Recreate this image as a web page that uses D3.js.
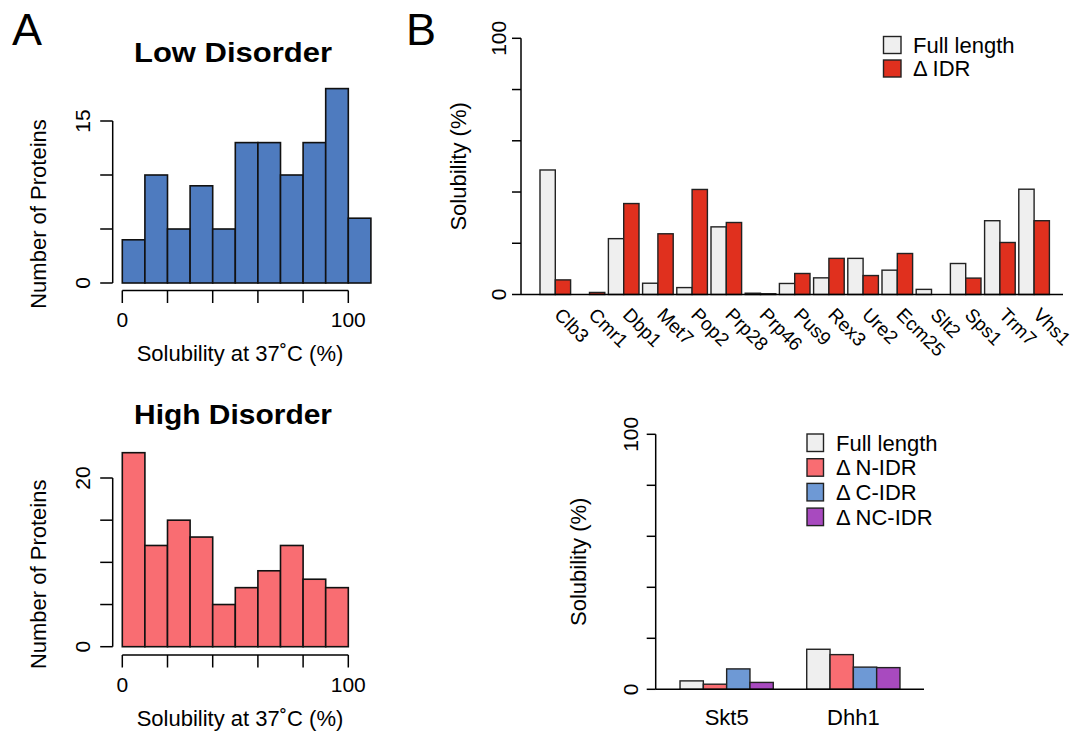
<!DOCTYPE html>
<html>
<head>
<meta charset="utf-8">
<script src="https://cdn.jsdelivr.net/npm/d3@7"></script>
<style>
	body { margin: 0; background: #fff; }
	svg { display: block; font-family: "Liberation Sans", Arial, sans-serif; }
</style>
</head>
<body>
<svg id="fig" width="1084" height="733"></svg>
<script>
// panel A histograms (counts per 10% bin)
const binStarts = [0, 10, 20, 30, 40, 50, 60, 70, 80, 90, 100]
const lowDisorderCounts = [4, 10, 5, 9, 5, 13, 13, 10, 13, 18, 6]
const highDisorderCounts = [23, 12, 15, 13, 5, 7, 9, 12, 8, 7]
const histTicks = [0, 20, 40, 60, 80, 100]
const histTickLabels = [0, 100]

// panel B top
const genes = ["Clb3", "Cmr1", "Dbp1", "Met7", "Pop2", "Prp28", "Prp46", "Pus9", "Rex3", "Ure2", "Ecm25", "Slt2", "Sps1", "Trm7", "Vhs1"]
const fullLength = [48.6, 0, 21.8, 4.4, 2.7, 26.4, 0.5, 4.3, 6.5, 14.1, 9.5, 2, 12.1, 28.8, 41.1]
const deltaIDR = [5.7, 0.8, 35.5, 23.7, 41, 28.1, 0.3, 8.2, 14.1, 7.4, 16, 0, 6.4, 20.3, 28.8]
const topLegend = ["Full length", "\u0394 IDR"]

// panel B bottom
const idrProteins = ["Skt5", "Dhh1"]
const idrFull = [3.3, 15.7]
const deltaN = [2, 13.6]
const deltaC = [8, 8.7]
const deltaNC = [2.7, 8.5]
const bottomLegend = ["Full length", "\u0394 N-IDR", "\u0394 C-IDR", "\u0394 NC-IDR"]

const solTicks = [0, 20, 40, 60, 80, 100]
const solTickLabels = [0, 100]

const svg = d3.select("#fig")
const FS = 21      // tick labels
const LFS = 22     // axis titles, legends

function yAxisLeft(g, x, scale, ticks, labels, tick, labelX) {
	g.append("line").attr("x1", x).attr("x2", x)
		.attr("y1", scale(d3.min(ticks))).attr("y2", scale(d3.max(ticks)))
		.attr("stroke", "#000").attr("stroke-width", 1.5)
	g.selectAll(null).data(ticks).enter().append("line")
		.attr("x1", x - tick).attr("x2", x)
		.attr("y1", d => scale(d)).attr("y2", d => scale(d))
		.attr("stroke", "#000").attr("stroke-width", 1.5)
	g.selectAll(null).data(labels).enter().append("text")
		.attr("transform", d => `translate(${labelX},${scale(d)}) rotate(-90)`)
		.attr("text-anchor", "middle").attr("font-size", FS)
		.text(d => d)
}

// ---- panel A ----
const histX = d3.scaleLinear().domain([0, 100]).range([122.3, 348.3])

function histogram(counts, yMax, yTicks, yLabels, top, bottom, axisY, title, titleY, color) {
	const g = svg.append("g")
	const y = d3.scaleLinear().domain([0, yMax]).range([bottom, top])
	g.selectAll(null).data(counts).enter().append("rect")
		.attr("x", (d, i) => histX(binStarts[i]))
		.attr("width", (d, i) => histX(binStarts[i] + 10) - histX(binStarts[i]))
		.attr("y", d => y(d))
		.attr("height", d => y(0) - y(d))
		.attr("fill", color).attr("stroke", "#111").attr("stroke-width", 1.6)

	const xa = g.append("g").attr("transform", `translate(0,${axisY})`)
	xa.append("line").attr("x1", histX(0)).attr("x2", histX(100))
		.attr("stroke", "#000").attr("stroke-width", 1.5)
	xa.selectAll(null).data(histTicks).enter().append("line")
		.attr("x1", d => histX(d)).attr("x2", d => histX(d))
		.attr("y1", 0).attr("y2", 12.5)
		.attr("stroke", "#000").attr("stroke-width", 1.5)
	xa.selectAll(null).data(histTickLabels).enter().append("text")
		.attr("x", d => histX(d)).attr("y", 36.5)
		.attr("text-anchor", "middle").attr("font-size", FS)
		.text(d => d)
	xa.append("text").attr("x", 240).attr("y", 70.5)
		.attr("text-anchor", "middle").attr("font-size", LFS)
		.text("Solubility at 37\u02DAC (%)")

	yAxisLeft(g, 112.7, y, yTicks, yLabels, 12.5, 90.2)
	g.append("text")
		.attr("transform", `translate(46,${(top + bottom) / 2 + 12}) rotate(-90)`)
		.attr("text-anchor", "middle").attr("font-size", LFS)
		.text("Number of Proteins")

	g.append("text").attr("x", 233).attr("y", titleY)
		.attr("text-anchor", "middle").attr("font-size", 28).attr("font-weight", "bold")
		.attr("textLength", 198).attr("lengthAdjust", "spacingAndGlyphs")
		.text(title)
}

histogram(lowDisorderCounts, 15, [0, 5, 10, 15], [0, 15], 121, 283, 290.5, "Low Disorder", 62, "#4E7BBF")
histogram(highDisorderCounts, 20, [0, 5, 10, 15, 20], [0, 20], 478, 646.7, 655, "High Disorder", 424, "#F96D72")

svg.append("text").attr("x", 12).attr("y", 45).attr("font-size", 45).text("A")
svg.append("text").attr("x", 406).attr("y", 45).attr("font-size", 45).text("B")

// ---- panel B top ----
{
	const g = svg.append("g")
	const x = d3.scaleBand().domain(genes).range([538.2, 1051.2])
		.paddingInner(0.105).paddingOuter(0.0525)
	const sub = d3.scaleBand().domain(["fl", "idr"]).range([0, x.bandwidth()])
	const y = d3.scaleLinear().domain([0, 100]).range([294.5, 38.3])
	const colors = { fl: "#EFEFEF", idr: "#E0301E" }
	const rows = genes.map((gene, i) => ({ gene, fl: fullLength[i], idr: deltaIDR[i] }))

	const grp = g.selectAll(null).data(rows).enter().append("g")
		.attr("transform", d => `translate(${x(d.gene)},0)`)
	grp.selectAll("rect").data(d => ["fl", "idr"].map(k => ({ k, v: d[k] }))).enter().append("rect")
		.attr("x", d => sub(d.k)).attr("width", sub.bandwidth())
		.attr("y", d => y(d.v)).attr("height", d => y(0) - y(d.v))
		.attr("fill", d => colors[d.k]).attr("stroke", "#222").attr("stroke-width", 1.4)

	g.append("line").attr("x1", 521).attr("x2", 1063).attr("y1", y(0)).attr("y2", y(0))
		.attr("stroke", "#000").attr("stroke-width", 1.5)
	yAxisLeft(g, 521, y, solTicks, solTickLabels, 9, 505.5)
	g.append("text")
		.attr("transform", `translate(466,${(y(0) + y(100)) / 2}) rotate(-90)`)
		.attr("text-anchor", "middle").attr("font-size", LFS)
		.text("Solubility (%)")

	g.selectAll(null).data(genes).enter().append("text")
		.attr("transform", d => `translate(${x(d) + x.bandwidth() / 2 - 2},316) rotate(45)`)
		.attr("font-size", 19)
		.text(d => d)

	const lg = g.selectAll(null).data(topLegend).enter().append("g")
		.attr("transform", (d, i) => `translate(883.5,${36.5 + i * 23.5})`)
	lg.append("rect").attr("width", 17.5).attr("height", 17)
		.attr("fill", (d, i) => [colors.fl, colors.idr][i]).attr("stroke", "#222").attr("stroke-width", 1.4)
	lg.append("text").attr("x", 29.5).attr("y", 16).attr("font-size", LFS).text(d => d)
}

// ---- panel B bottom ----
{
	const g = svg.append("g")
	const keys = ["full", "n", "c", "nc"]
	const colors = { full: "#EFEFEF", n: "#F96D72", c: "#6E99D5", nc: "#A84ABF" }
	const rows = idrProteins.map((p, i) => ({ p, full: idrFull[i], n: deltaN[i], c: deltaC[i], nc: deltaNC[i] }))
	const x = d3.scaleBand().domain(idrProteins).range([663.3, 916.7])
		.paddingInner(0.264).paddingOuter(0.132)
	const sub = d3.scaleBand().domain(keys).range([0, x.bandwidth()])
	const y = d3.scaleLinear().domain([0, 100]).range([689.3, 434.3])

	const grp = g.selectAll(null).data(rows).enter().append("g")
		.attr("transform", d => `translate(${x(d.p)},0)`)
	grp.selectAll("rect").data(d => keys.map(k => ({ k, v: d[k] }))).enter().append("rect")
		.attr("x", d => sub(d.k)).attr("width", sub.bandwidth())
		.attr("y", d => y(d.v)).attr("height", d => y(0) - y(d.v))
		.attr("fill", d => colors[d.k]).attr("stroke", "#222").attr("stroke-width", 1.4)

	g.append("line").attr("x1", 655.7).attr("x2", 924).attr("y1", y(0)).attr("y2", y(0))
		.attr("stroke", "#000").attr("stroke-width", 1.5)
	yAxisLeft(g, 655.7, y, solTicks, solTickLabels, 9, 637.5)
	g.append("text")
		.attr("transform", `translate(586,${(y(0) + y(100)) / 2}) rotate(-90)`)
		.attr("text-anchor", "middle").attr("font-size", LFS)
		.text("Solubility (%)")

	g.selectAll(null).data(idrProteins).enter().append("text")
		.attr("x", d => x(d) + x.bandwidth() / 2).attr("y", 725)
		.attr("text-anchor", "middle").attr("font-size", LFS)
		.text(d => d)

	const lg = g.selectAll(null).data(bottomLegend).enter().append("g")
		.attr("transform", (d, i) => `translate(807,${434 + i * 24.7})`)
	lg.append("rect").attr("width", 16.5).attr("height", 17.5)
		.attr("fill", (d, i) => colors[keys[i]]).attr("stroke", "#222").attr("stroke-width", 1.4)
	lg.append("text").attr("x", 29).attr("y", 16.5).attr("font-size", LFS).text(d => d)
}
</script>
</body>
</html>
